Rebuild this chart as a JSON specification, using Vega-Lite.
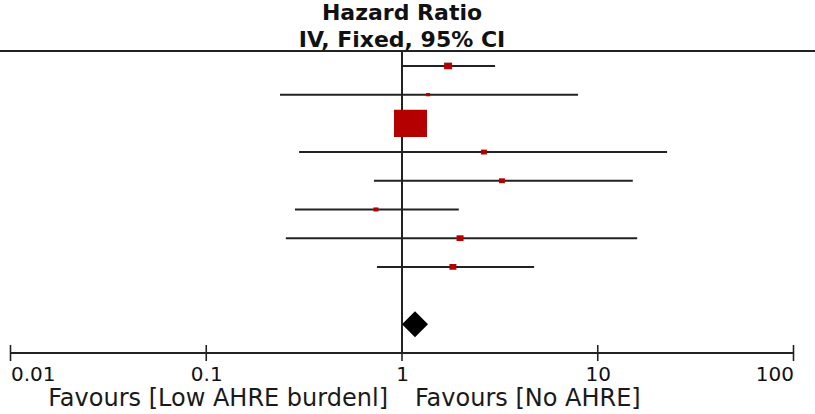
{
  "$schema": "https://vega.github.io/schema/vega-lite/v6.json",
  "width": 783,
  "height": 302,
  "autosize": {"type": "none"},
  "padding": {"left": 10.5, "top": 51, "right": 21.5, "bottom": 61},
  "background": "white",
  "config": {
    "view": {"stroke": null},
    "axis": {"labelFont": "DejaVu Sans", "labelFontSize": 20, "labelColor": "#111"}
  },
  "datasets": {
    "studies": [
      {"row": 1, "hr": 1.72, "lo": 1.0, "hi": 2.99, "weight": 4.7},
      {"row": 2, "hr": 1.36, "lo": 0.238, "hi": 7.93, "weight": 1.2},
      {"row": 3, "hr": 1.105, "lo": 0.95, "hi": 1.3, "weight": 79.9},
      {"row": 4, "hr": 2.62, "lo": 0.298, "hi": 22.6, "weight": 2.6},
      {"row": 5, "hr": 3.24, "lo": 0.719, "hi": 15.1, "weight": 2.6},
      {"row": 6, "hr": 0.736, "lo": 0.284, "hi": 1.95, "weight": 1.8},
      {"row": 7, "hr": 1.98, "lo": 0.255, "hi": 15.9, "weight": 3.6},
      {"row": 8, "hr": 1.82, "lo": 0.745, "hi": 4.73, "weight": 3.6}
    ],
    "pooled": [{"row": 10, "hr": 1.165, "lo": 1.0, "hi": 1.37}],
    "ticks": [
      {"v": 0.01, "y": 10.72, "y2": 11.28},
      {"v": 0.1, "y": 10.72, "y2": 11.28},
      {"v": 1, "y": 10.72, "y2": 11.28},
      {"v": 10, "y": 10.72, "y2": 11.28},
      {"v": 100, "y": 10.72, "y2": 11.28}
    ],
    "frame": [
      {"part": "header rule", "x": 0.008, "x2": 140, "y": 0.48, "y2": 0.48},
      {"part": "null line", "x": 1, "x2": 1, "y": 0.48, "y2": 11},
      {"part": "axis line", "x": 0.01, "x2": 100, "y": 11, "y2": 11}
    ],
    "header": [
      {"text": "Hazard Ratio", "x": 1, "y": -0.6},
      {"text": "IV, Fixed, 95% CI", "x": 1, "y": 0.35}
    ],
    "favourLeft": [{"text": "Favours [Low AHRE burdenl]", "x": 1, "y": 12.85}],
    "favourRight": [{"text": "Favours [No AHRE]", "x": 1, "y": 12.85}]
  },
  "layer": [
    {
      "data": {"name": "frame"},
      "mark": {"type": "rule", "color": "#222", "strokeWidth": 2},
      "encoding": {
        "x": {
          "field": "x", "type": "quantitative",
          "scale": {"type": "log", "domain": [0.01, 100], "nice": false},
          "axis": {
            "values": [0.01, 0.1, 1, 10, 100],
            "format": "~g",
            "title": null,
            "domain": false,
            "ticks": false,
            "tickSize": 0,
            "grid": false,
            "labelFlush": true,
            "labelOverlap": false,
            "labelFont": "DejaVu Sans",
            "labelFontSize": 20,
            "labelColor": "#111",
            "labelPadding": 11
          }
        },
        "x2": {"field": "x2"},
        "y": {"field": "y", "type": "quantitative", "scale": {"domain": [0.48, 11], "reverse": true, "nice": false, "zero": false}, "axis": null},
        "y2": {"field": "y2"}
      }
    },
    {
      "data": {"name": "ticks"},
      "mark": {"type": "rule", "color": "#222", "strokeWidth": 1.6},
      "encoding": {
        "x": {"field": "v", "type": "quantitative"},
        "y": {"field": "y", "type": "quantitative"},
        "y2": {"field": "y2"}
      }
    },
    {
      "data": {"name": "studies"},
      "mark": {"type": "rule", "color": "#222", "strokeWidth": 2},
      "encoding": {
        "x": {"field": "lo", "type": "quantitative"},
        "x2": {"field": "hi"},
        "y": {"field": "row", "type": "quantitative"}
      }
    },
    {
      "data": {"name": "studies"},
      "mark": {"type": "point", "shape": "M-1,-0.82L1,-0.82L1,0.82L-1,0.82Z", "filled": true, "color": "#b50000", "opacity": 1},
      "encoding": {
        "x": {"field": "hr", "type": "quantitative"},
        "y": {"field": "row", "type": "quantitative"},
        "size": {"field": "weight", "type": "quantitative", "scale": {"type": "linear", "domain": [0, 100], "range": [0, 1364], "zero": true}, "legend": null}
      }
    },
    {
      "data": {"name": "pooled"},
      "mark": {"type": "point", "shape": "diamond", "filled": true, "color": "black", "opacity": 1, "size": 676},
      "encoding": {
        "x": {"field": "hr", "type": "quantitative"},
        "y": {"field": "row", "type": "quantitative"}
      }
    },
    {
      "data": {"name": "header"},
      "mark": {"type": "text", "font": "DejaVu Sans", "fontWeight": "bold", "fontSize": 22, "color": "#111", "align": "center", "baseline": "alphabetic"},
      "encoding": {
        "x": {"field": "x", "type": "quantitative"},
        "y": {"field": "y", "type": "quantitative"},
        "text": {"field": "text"}
      }
    },
    {
      "data": {"name": "favourLeft"},
      "mark": {"type": "text", "font": "DejaVu Sans", "fontSize": 24, "color": "#1a1a1a", "align": "right", "baseline": "alphabetic", "dx": -14},
      "encoding": {
        "x": {"field": "x", "type": "quantitative"},
        "y": {"field": "y", "type": "quantitative"},
        "text": {"field": "text"}
      }
    },
    {
      "data": {"name": "favourRight"},
      "mark": {"type": "text", "font": "DejaVu Sans", "fontSize": 24, "color": "#1a1a1a", "align": "left", "baseline": "alphabetic", "dx": 13},
      "encoding": {
        "x": {"field": "x", "type": "quantitative"},
        "y": {"field": "y", "type": "quantitative"},
        "text": {"field": "text"}
      }
    }
  ]
}
